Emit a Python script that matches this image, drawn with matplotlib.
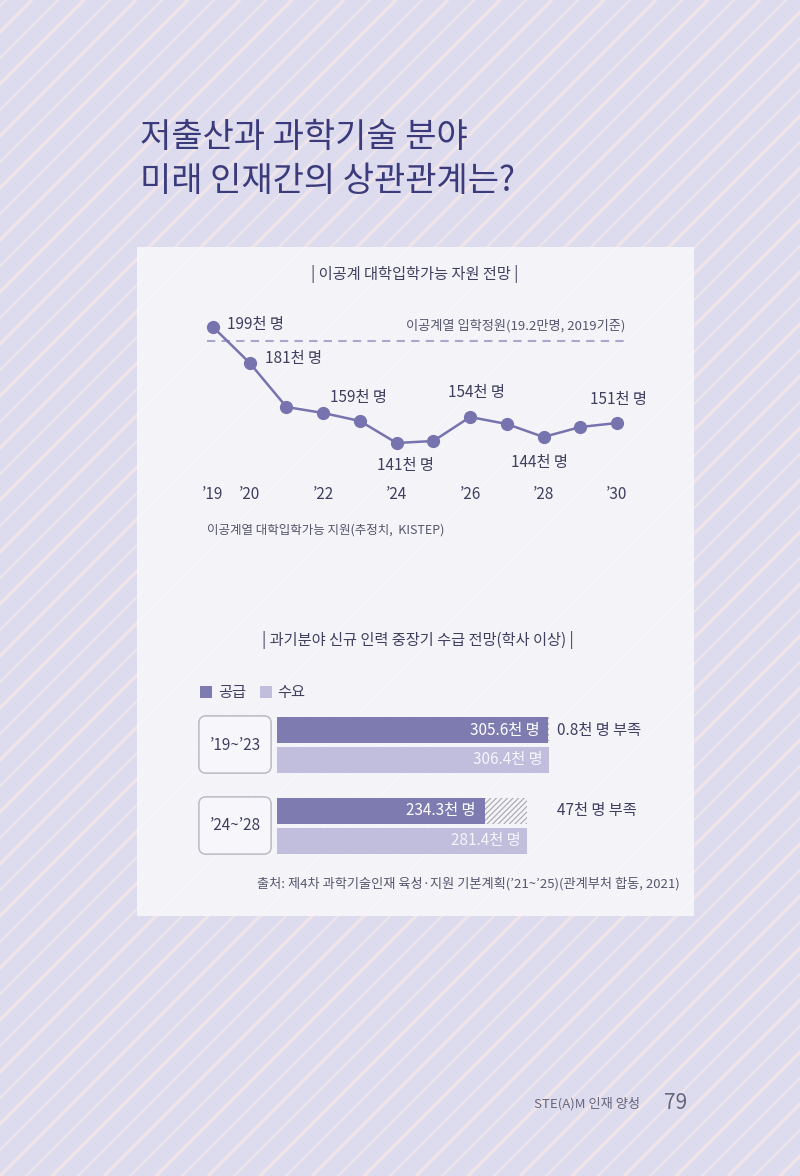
import matplotlib
matplotlib.use("Agg")
import matplotlib.pyplot as plt
from matplotlib.patches import Rectangle, FancyBboxPatch
import numpy as np

plt.rcParams['font.family'] = ['Noto Sans CJK KR', 'DejaVu Sans']
plt.rcParams['hatch.linewidth'] = 0.8

# ---------------- data ----------------
years = [2019, 2020, 2021, 2022, 2023, 2024, 2025, 2026, 2027, 2028, 2029, 2030]
applicants = [199, 181, 159, 156, 152, 141, 142, 154, 150.5, 144, 149, 151]
labelled_years = [2019, 2020, 2021, 2024, 2026, 2028, 2030]
quota = 192
tick_years = [2019, 2020, 2022, 2024, 2026, 2028, 2030]
tick_labels = ["’19", "’20", "’22", "’24", "’26", "’28", "’30"]

periods = ["’19~’23", "’24~’28"]
supply = [305.6, 234.3]
demand = [306.4, 281.4]
shortage_text = ["0.8", "47"]

# ---------------- figure ----------------
W, H = 800, 1176
fig = plt.figure(figsize=(W / 100, H / 100), dpi=100)
fig.patch.set_facecolor('#dddcef')

bg = fig.add_axes([0, 0, 1, 1])
bg.set_xlim(0, W)
bg.set_ylim(H, 0)
bg.axis('off')
bg.set_zorder(0)

# diagonal stripes on background
for i, c in enumerate(range(-1300, 820, 26)):
    lw = 2.4 if i % 2 == 0 else 1.4
    bg.plot([c, c + H], [H, 0], color='#efe5e8', lw=lw, solid_capstyle='butt', zorder=1)

# panel
panel = Rectangle((137, 247), 557, 669, facecolor='#f4f3f8', edgecolor='none', zorder=2)
bg.add_patch(panel)
for c in range(-1300, 820, 26):
    ln, = bg.plot([c, c + H], [H, 0], color='#f7f6fa', lw=1.2, zorder=2.5)
    ln.set_clip_path(panel)

TXT = '#3f3f60'
NAVY = '#3b3a7a'
GRAY = '#56566e'

# main title
bg.text(140, 137, "저출산과 과학기술 분야", fontsize=24.5, color=NAVY, ha='left', va='center', zorder=5)
bg.text(140, 182, "미래 인재간의 상관관계는?", fontsize=24.5, color=NAVY, ha='left', va='center', zorder=5)

# section titles
bg.text(415, 274, "| 이공계 대학입학가능 자원 전망 |", fontsize=11, color=TXT, ha='center', va='center', zorder=5)
bg.text(207, 530, "이공계열 대학입학가능 지원(추정치,  KISTEP)", fontsize=9, color=GRAY, ha='left', va='center', zorder=5)
bg.text(418, 640, "| 과기분야 신규 인력 중장기 수급 전망(학사 이상) |", fontsize=11, color=TXT, ha='center', va='center', zorder=5)
bg.text(680, 884, "출처: 제4차 과학기술인재 육성·지원 기본계획(’21~’25)(관계부처 합동, 2021)",
        fontsize=9.5, color=GRAY, ha='right', va='center', zorder=5)

# footer
bg.text(640, 1104, "STE(A)M 인재 양성", fontsize=9.5, color='#66667c', ha='right', va='center', zorder=5)
bg.text(676, 1103, "79", fontsize=15, color='#66667c', ha='center', va='center', zorder=5)

# ---------------- line chart ----------------
def rect(l, t, r, b):
    return [l / W, 1 - b / H, (r - l) / W, (b - t) / H]

ax1 = fig.add_axes(rect(200, 310, 630, 460))
ax1.set_zorder(3)
ax1.patch.set_alpha(0)
px_per_year = (617 - 213) / 11
ax1.set_xlim(2019 - 13 / px_per_year, 2030 + 13 / px_per_year)
ax1.set_ylim(199 - 133 / 2, 199 + 17 / 2)
for s in ax1.spines.values():
    s.set_visible(False)
ax1.set_yticks([])

LINE = '#7673ae'
ax1.hlines(quota, 2019 - 6 / px_per_year, 2030 + 8 / px_per_year, colors='#a9a8cc', lw=1.5,
           linestyles=(0, (4, 3)), zorder=1)
ax1.text(2030 + 8 / px_per_year, quota + 7.5, "이공계열 입학정원(19.2만명, 2019기준)", fontsize=9.5,
         color=GRAY, ha='right', va='center')
ax1.plot(years, applicants, color=LINE, lw=1.8, marker='o', markersize=8.5,
         markerfacecolor=LINE, markeredgecolor=LINE, zorder=3, clip_on=False)

offsets = {
    2019: (10, 1.5, 'left'),
    2020: (11, 3, 'left'),
    2021: (31.5, 7, 'left'),
    2024: (6.5, -16, 'center'),
    2026: (4.5, 18, 'center'),
    2028: (-3, -18.5, 'center'),
    2030: (1, 17, 'center'),
}
for yr in labelled_years:
    v = applicants[years.index(yr)]
    dx, dy, ha = offsets[yr]
    ax1.annotate(f"{v:g}천 명", (yr, v), xytext=(dx, dy), textcoords='offset points',
                 ha=ha, va='center', fontsize=11, color=TXT)

ax1.set_xticks(tick_years)
ax1.set_xticklabels(tick_labels, fontsize=11, color=TXT)
ax1.tick_params(axis='x', length=0, pad=19)

# ---------------- bar chart ----------------
SUP = '#7e7bb1'
DEM = '#c0bddd'

ax2 = fig.add_axes(rect(277, 705, 549, 860))
ax2.set_zorder(3)
ax2.patch.set_alpha(0)
ax2.set_xlim(0, max(demand))
ax2.set_ylim(860, 705)
ax2.axis('off')

group_top = [717, 798]
bar_h = 26
for g in range(len(periods)):
    ys = group_top[g] + bar_h / 2
    yd = group_top[g] + 29.5 + bar_h / 2
    ax2.barh(ys, supply[g], height=bar_h, color=SUP, edgecolor='none', zorder=2)
    ax2.barh(yd, demand[g], height=bar_h, color=DEM, edgecolor='none', zorder=2)
    ax2.barh(ys, demand[g] - supply[g], left=supply[g], height=bar_h, facecolor='none',
             edgecolor='#a6a6ac', hatch='//////', lw=0, zorder=2)
    ax2.annotate(f"{supply[g]}천 명", (supply[g], ys), xytext=(-6.5, 0), textcoords='offset points',
                 ha='right', va='center', fontsize=11, color='white', zorder=4)
    ax2.annotate(f"{demand[g]}천 명", (demand[g], yd), xytext=(-4.5, 0), textcoords='offset points',
                 ha='right', va='center', fontsize=11, color='#f6f5fb', zorder=4)
    ax2.annotate(f"{shortage_text[g]}천 명 부족", (max(demand), ys), xytext=(6, 0),
                 textcoords='offset points', ha='left', va='center', fontsize=11, color=TXT,
                 annotation_clip=False)
    # period box
    box = FancyBboxPatch((199, group_top[g] - 1), 72, 57, boxstyle='round,pad=0,rounding_size=7',
                         facecolor='#f7f6fa', edgecolor='#bdbdc6', lw=1.0, zorder=6)
    bg.add_patch(box)

bg.set_zorder(0)

# legend (manual) and period labels on an overlay axes
ov = fig.add_axes([0, 0, 1, 1])
ov.set_xlim(0, W)
ov.set_ylim(H, 0)
ov.axis('off')
ov.set_zorder(4)
for g in range(len(periods)):
    box = FancyBboxPatch((199, group_top[g] - 1), 72, 57, boxstyle='round,pad=0,rounding_size=7',
                         facecolor='#f7f6fa', edgecolor='#bdbdc6', lw=1.0)
    ov.add_patch(box)
    ov.text(235, group_top[g] + 28, periods[g], fontsize=11, color=TXT, ha='center', va='center')
ov.add_patch(Rectangle((200, 686), 12, 12, facecolor=SUP, edgecolor='none'))
ov.text(218, 692, "공급", fontsize=11, color=TXT, ha='left', va='center')
ov.add_patch(Rectangle((260, 686), 12, 12, facecolor=DEM, edgecolor='none'))
ov.text(277, 692, "수요", fontsize=11, color=TXT, ha='left', va='center')

fig.savefig("out.png", dpi=100, facecolor=fig.get_facecolor())
